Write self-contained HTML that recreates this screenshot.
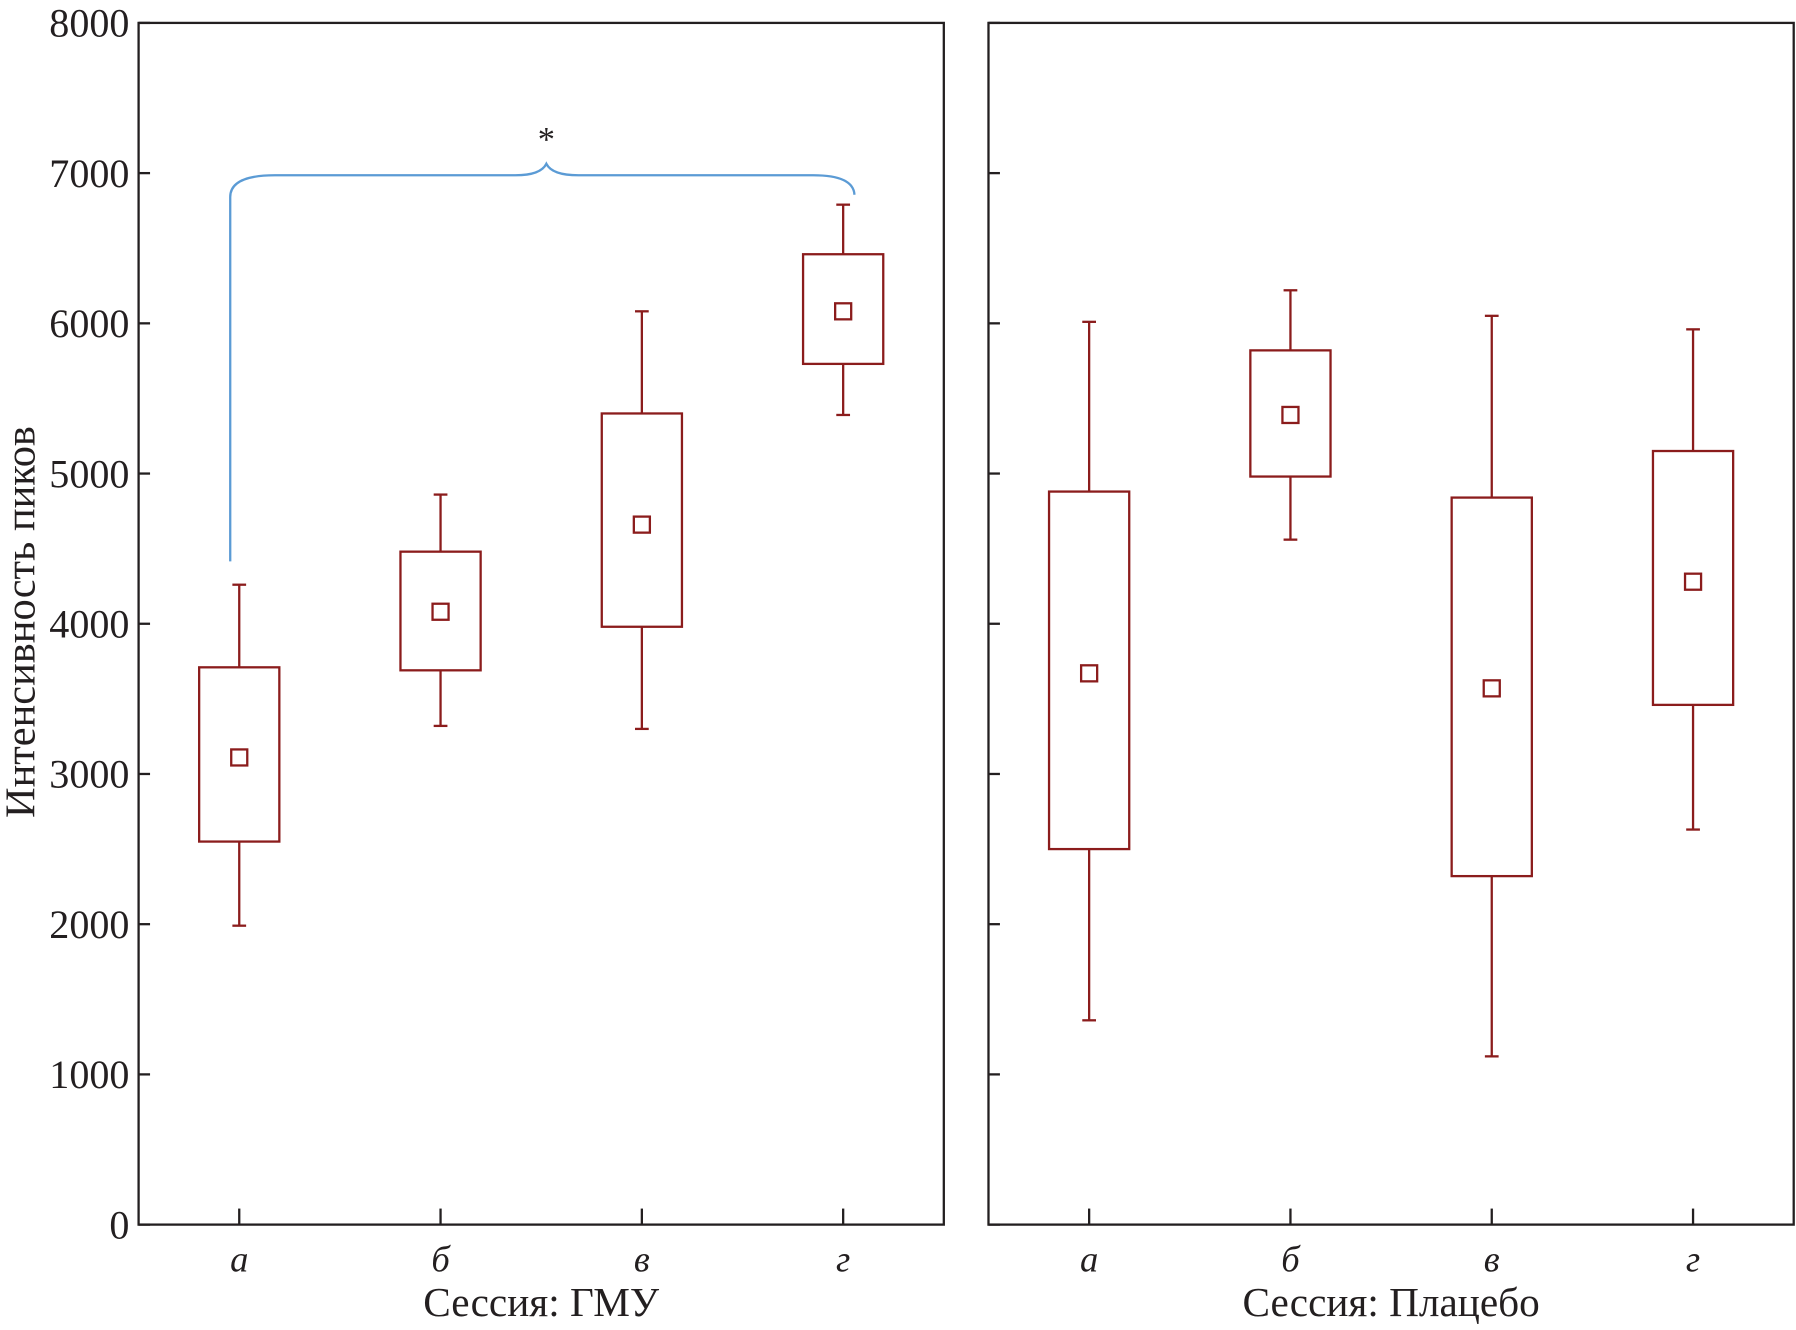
<!DOCTYPE html>
<html><head><meta charset="utf-8"><style>
html,body{margin:0;padding:0;background:#fff;}
svg{display:block;}
text{font-family:"Liberation Serif","DejaVu Serif",serif;fill:#231f20;}
</style></head><body>
<svg id="chart" width="1796" height="1330" viewBox="0 0 1568 1161" preserveAspectRatio="none" xmlns="http://www.w3.org/2000/svg">
<g id="axes"></g>
<g id="marks"></g>
<path d="M201,490 L201,172 Q201,153 240,153 L450,153 Q472,153 477,143 Q482,153 505,153 L710,153 Q745,153 746,170" fill="none" stroke="#5b9bd5" stroke-width="2"/>
<text x="477" y="132" font-size="30" text-anchor="middle">*</text>
<text transform="translate(30,543) rotate(-90)" font-size="37" text-anchor="middle">Интенсивность пиков</text>
</svg>
<script>
const categories = ["а","б","в","г"];
const panels = ["Сессия: ГМУ","Сессия: Плацебо"];
const yTicks = [0,1000,2000,3000,4000,5000,6000,7000,8000];
const gmuWhiskLow = [1990,3320,3300,5390];
const gmuQ1 = [2550,3690,3980,5730];
const gmuQ3 = [3710,4480,5400,6460];
const gmuWhiskHigh = [4260,4860,6080,6790];
const gmuMean = [3110,4080,4660,6080];
const plaWhiskLow = [1360,4560,1120,2630];
const plaQ1 = [2500,4980,2320,3460];
const plaQ3 = [4880,5820,4840,5150];
const plaWhiskHigh = [6010,6220,6050,5960];
const plaMean = [3670,5390,3570,4280];

const NS="http://www.w3.org/2000/svg";
const top_=20, bot=1069, ymax=8000;
const panelX=[[121,824],[863,1566]];
function y(v){return bot-(v/ymax)*(bot-top_);}
function x(p,i){const [a,b]=panelX[p];const step=(b-a)/4;return a+step*(i+0.5);}
function mk(parent,tag,attrs){const e=document.createElementNS(NS,tag);for(const k in attrs)e.setAttribute(k,attrs[k]);parent.appendChild(e);return e;}
const axes=document.getElementById('axes'), marks=document.getElementById('marks');
const ink="#231f20", red="#8b1c1c";
panels.forEach((title,p)=>{
  const [a,b]=panelX[p];
  const fr=mk(axes,'rect',{x:a,y:top_,width:b-a,height:bot-top_,fill:'none',stroke:ink,'stroke-width':2});
  
  
  yTicks.forEach(v=>{
    const t=mk(axes,'line',{x1:a,x2:a+10,y1:y(v),y2:y(v),stroke:ink,'stroke-width':2});
    
    
    if(p===0){
      const l=mk(axes,'text',{x:a-8,y:y(v)+12,'font-size':35,'text-anchor':'end'});
      l.textContent=v;
      
      
    }
  });
  categories.forEach((c,i)=>{
    const t=mk(axes,'line',{x1:x(p,i),x2:x(p,i),y1:bot,y2:bot-14,stroke:ink,'stroke-width':2});
    
    
    const l=mk(axes,'text',{x:x(p,i),y:1110,'font-size':32,'font-style':'italic','text-anchor':'middle'});
    l.textContent=c;
    
    
  });
  const tt=mk(axes,'text',{x:(a+b)/2,y:1149,'font-size':36,'text-anchor':'middle'});
  tt.textContent=title;
  
  
  const lo=p?plaWhiskLow:gmuWhiskLow, q1=p?plaQ1:gmuQ1, q3=p?plaQ3:gmuQ3, hi=p?plaWhiskHigh:gmuWhiskHigh, mn=p?plaMean:gmuMean;
  categories.forEach((c,i)=>{
    const cx=x(p,i), g=mk(marks,'g',{});
    
    
    const s={stroke:red,'stroke-width':2,fill:'none'};
    mk(g,'line',Object.assign({x1:cx,x2:cx,y1:y(hi[i]),y2:y(q3[i])},s));
    mk(g,'line',Object.assign({x1:cx,x2:cx,y1:y(q1[i]),y2:y(lo[i])},s));
    mk(g,'line',Object.assign({x1:cx-6,x2:cx+6,y1:y(hi[i]),y2:y(hi[i])},s));
    mk(g,'line',Object.assign({x1:cx-6,x2:cx+6,y1:y(lo[i]),y2:y(lo[i])},s));
    mk(g,'rect',Object.assign({x:cx-35,y:y(q3[i]),width:70,height:y(q1[i])-y(q3[i])},s));
    mk(g,'rect',Object.assign({x:cx-7,y:y(mn[i])-7,width:14,height:14},s));
  });
});
</script>
</body></html>
